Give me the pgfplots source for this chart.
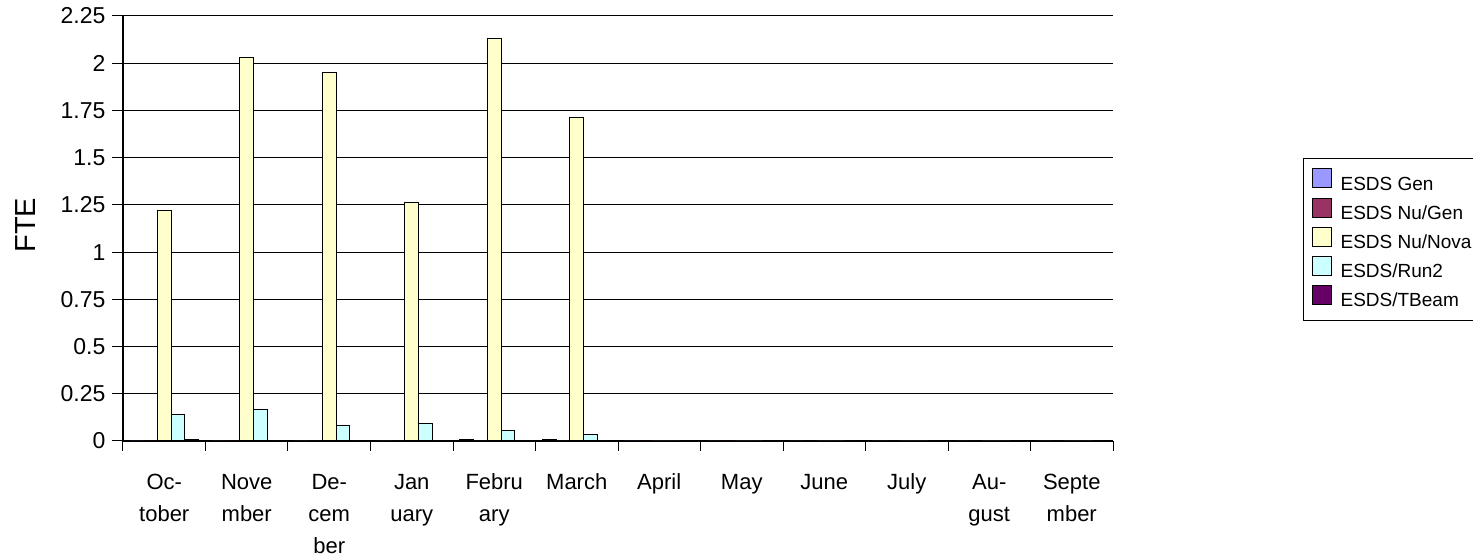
\documentclass[border=0pt]{standalone}
\usepackage{fontspec}
\setmainfont{Liberation Sans}
\usepackage{pgfplots}
\pgfplotsset{compat=1.18}
\definecolor{cGen}{HTML}{9999FF}
\definecolor{cNuGen}{HTML}{993366}
\definecolor{cNova}{HTML}{FFFFCC}
\definecolor{cRun}{HTML}{CCFFFF}
\definecolor{cTB}{HTML}{660066}
\begin{document}
\begin{tikzpicture}
\path[use as bounding box] (-61.5pt,-57.5pt) rectangle (675pt,220.5pt);
\begin{axis}[
  at={(0pt,0pt)}, anchor=south west,
  scale only axis, width=495pt, height=212.5pt,
  ybar=0pt, bar width=6.9pt,
  xmin=-0.5, xmax=11.5, ymin=0, ymax=2.25,
  axis x line*=bottom, axis y line*=left,
  axis line style={line width=0.6pt, black},
  xtick={0,...,11},
  xticklabels={{\strut Oc-\\tober},{\strut Nove\\mber},{\strut De-\\cem\\ber},{\strut Jan\\uary},{\strut Febru\\ary},{\strut March},{\strut April},{\strut May},{\strut June},{\strut July},{\strut Au-\\gust},{\strut Septe\\mber}},
  minor xtick={-0.5,0.5,...,11.5},
  major x tick style={draw=none},
  minor x tick style={black, line width=0.5pt},
  tick align=outside,
  major tick length=5.25pt, minor tick length=5pt,
  ytick={0,0.25,0.5,0.75,1,1.25,1.5,1.75,2,2.25},
  yticklabels={0,0.25,0.5,0.75,1,1.25,1.5,1.75,2,2.25},
  ytick style={black, line width=0.5pt},
  ymajorgrids, major grid style={black, line width=0.5pt},
  yticklabel style={font=\fontsize{11.5}{13}\selectfont},
  xticklabel style={font=\fontsize{11}{16}\selectfont, align=center, anchor=north, yshift=-4.2pt},
  ylabel={FTE},
  ylabel style={font=\fontsize{14.5}{16}\selectfont, at={(axis description cs:-0.098,0.508)}, anchor=center},
  legend style={at={(1.192,0.666)}, anchor=north west, draw=black, line width=0.5pt,
    font=\fontsize{9.5}{11}\selectfont, row sep=1.75pt, inner xsep=4pt, inner ysep=5pt,
    nodes={inner sep=0pt, text height=7pt, text depth=2pt}, cells={anchor=west}, column sep=4.5pt},
  legend image code/.code={\draw[#1, line width=0.5pt] (0pt,-1.45pt) rectangle (9.5pt,8.05pt);},
  every axis plot/.append style={draw=black, line width=0.5pt},
]
\addplot[fill=cGen] coordinates {(0,0) (1,0) (2,0) (3,0) (4,0.01) (5,0.01) (6,0) (7,0) (8,0) (9,0) (10,0) (11,0)};
\addplot[fill=cNuGen] coordinates {(0,0) (1,0) (2,0) (3,0) (4,0) (5,0) (6,0) (7,0) (8,0) (9,0) (10,0) (11,0)};
\addplot[fill=cNova] coordinates {(0,1.22) (1,2.03) (2,1.95) (3,1.26) (4,2.13) (5,1.71) (6,0) (7,0) (8,0) (9,0) (10,0) (11,0)};
\addplot[fill=cRun] coordinates {(0,0.14) (1,0.165) (2,0.08) (3,0.095) (4,0.055) (5,0.035) (6,0) (7,0) (8,0) (9,0) (10,0) (11,0)};
\addplot[fill=cTB] coordinates {(0,0.01) (1,0) (2,0) (3,0) (4,0) (5,0) (6,0) (7,0) (8,0) (9,0) (10,0) (11,0)};
\legend{ESDS Gen, ESDS Nu/Gen, ESDS Nu/Nova, ESDS/Run2, ESDS/TBeam}
\end{axis}
\end{tikzpicture}
\end{document}
